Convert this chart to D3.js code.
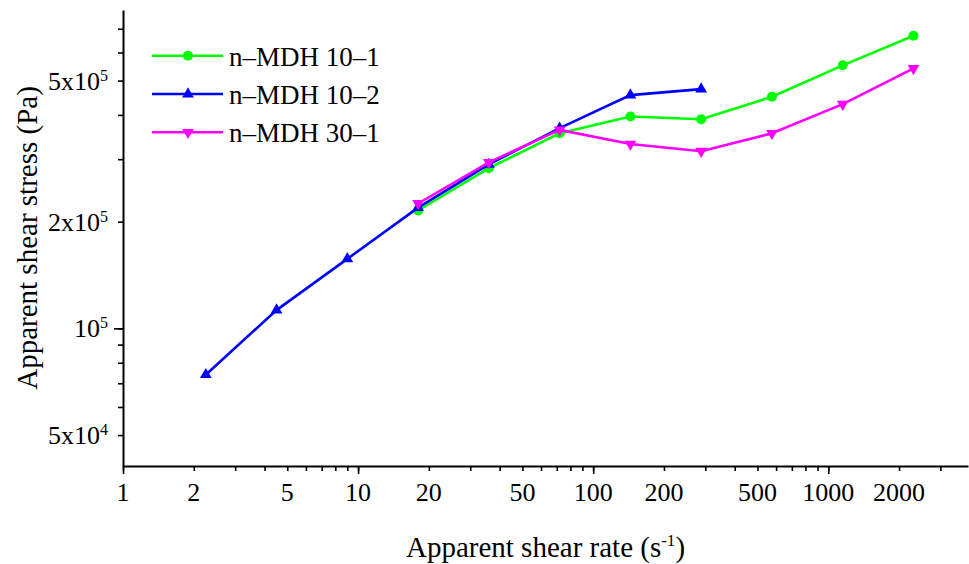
<!DOCTYPE html>
<html>
<head>
<meta charset="utf-8">
<script src="https://cdn.jsdelivr.net/npm/d3@7"></script>
<style>
  body { margin: 0; background: #fff; }
  svg { display: block; }
  text { font-family: "Liberation Serif", "Times New Roman", serif; fill: #000; }
</style>
</head>
<body>
<div id="chart"></div>
<script>
// shear rate (s^-1) for each series
var rateBlue = [2.25, 4.5, 9, 18, 36, 72, 144, 288];
var rateLong = [18, 36, 72, 144, 288, 576, 1152, 2304];

// apparent shear stress (Pa)
var stress101 = [2.15e5, 2.83e5, 3.55e5, 3.96e5, 3.89e5, 4.50e5, 5.52e5, 6.69e5];
var stress102 = [7.4e4, 1.126e5, 1.57e5, 2.19e5, 2.90e5, 3.67e5, 4.55e5, 4.73e5];
var stress301 = [2.25e5, 2.94e5, 3.63e5, 3.31e5, 3.16e5, 3.55e5, 4.29e5, 5.41e5];

var seriesNames = ["n\u2013MDH 10\u20131", "n\u2013MDH 10\u20132", "n\u2013MDH 30\u20131"];
var seriesColors = ["#00ff00", "#0000ff", "#ff00ff"];

// tick labels
var xLabels = [1, 2, 5, 10, 20, 50, 100, 200, 500, 1000, 2000];
var yLabels = [[5, 4], [1, 5], [2, 5], [5, 5]]; // mantissa, exponent

var W = 969, H = 564;
var plotL = 123, plotR = 968, plotT = 10, plotB = 466;

var svg = d3.select("#chart").append("svg")
    .attr("width", W)
    .attr("height", H);

var x = d3.scaleLog().domain([1, 3930]).range([plotL, plotR]);
var y = d3.scaleLog().domain([40900, 790700]).range([plotB, plotT]);

// ticks at k*10^n inside the domain
function logTicks(scale) {
  var d = scale.domain(), out = [];
  for (var e = Math.floor(Math.log10(d[0])); e <= Math.ceil(Math.log10(d[1])); e++) {
    for (var k = 1; k < 10; k++) {
      var v = k * Math.pow(10, e);
      if (v >= d[0] && v <= d[1]) out.push(v);
    }
  }
  return out;
}
var xAll = logTicks(x), yAll = logTicks(y);
var xDec = xAll.filter(function(v){ return Math.abs(Math.log10(v) % 1) < 1e-9; });
var yDec = yAll.filter(function(v){ return Math.abs(Math.log10(v) % 1) < 1e-9; });

function styleAxis(g) {
  g.selectAll("text").remove();
  g.selectAll("line").attr("stroke", "#000").attr("stroke-width", 1.6);
  g.select(".domain").attr("stroke", "#000").attr("stroke-width", 2);
}

// x axis
svg.append("g")
  .attr("transform", "translate(0," + plotB + ")")
  .call(d3.axisBottom(x).tickValues(xAll).tickSize(5).tickSizeOuter(0).tickFormat(""))
  .call(styleAxis);
svg.append("g")
  .attr("transform", "translate(0," + plotB + ")")
  .call(d3.axisBottom(x).tickValues(xDec).tickSize(8).tickSizeOuter(0).tickFormat(""))
  .call(styleAxis)
  .select(".domain").remove();

// y axis
svg.append("g")
  .attr("transform", "translate(" + plotL + ",0)")
  .call(d3.axisLeft(y).tickValues(yAll).tickSize(5).tickSizeOuter(0).tickFormat(""))
  .call(styleAxis);
svg.append("g")
  .attr("transform", "translate(" + plotL + ",0)")
  .call(d3.axisLeft(y).tickValues(yDec).tickSize(9).tickSizeOuter(0).tickFormat(""))
  .call(styleAxis)
  .select(".domain").remove();

// x tick labels
svg.append("g").selectAll("text")
  .data(xLabels)
  .enter().append("text")
  .attr("x", function(d){ return x(d); })
  .attr("y", plotB + 35)
  .attr("text-anchor", "middle")
  .style("font-size", "26px")
  .text(function(d){ return d; });

// y tick labels with superscript exponents
var yl = svg.append("g").selectAll("text")
  .data(yLabels)
  .enter().append("text")
  .attr("x", 108)
  .attr("y", function(d){ return y(d[0] * Math.pow(10, d[1])) + 9; })
  .attr("text-anchor", "end")
  .style("font-size", "26px");
yl.append("tspan").text(function(d){ return d[0] === 1 ? "10" : d[0] + "x10"; });
yl.append("tspan")
  .attr("dy", -9)
  .style("font-size", "16px")
  .text(function(d){ return d[1]; });

// axis titles
var xt = svg.append("text")
  .attr("x", (plotL + plotR) / 2)
  .attr("y", 557)
  .attr("text-anchor", "middle")
  .style("font-size", "29px");
xt.append("tspan").text("Apparent shear rate (s");
xt.append("tspan").attr("dy", -11).style("font-size", "17px").text("-1");
xt.append("tspan").attr("dy", 11).text(")");

svg.append("text")
  .attr("transform", "translate(37," + (plotT + plotB) / 2 + ") rotate(-90)")
  .attr("text-anchor", "middle")
  .style("font-size", "29px")
  .text("Apparent shear stress (Pa)");

// series
var series = [
  { name: seriesNames[0], color: seriesColors[0], xs: rateLong, ys: stress101, sym: d3.symbolCircle, size: 78, rot: 0 },
  { name: seriesNames[1], color: seriesColors[1], xs: rateBlue, ys: stress102, sym: d3.symbolTriangle, size: 60, rot: 0 },
  { name: seriesNames[2], color: seriesColors[2], xs: rateLong, ys: stress301, sym: d3.symbolTriangle, size: 60, rot: 180 }
];

var line = d3.line()
  .x(function(d){ return x(d[0]); })
  .y(function(d){ return y(d[1]); });

series.forEach(function(s) {
  var pts = d3.zip(s.xs, s.ys);
  var g = svg.append("g");
  g.append("path")
    .attr("d", line(pts))
    .attr("fill", "none")
    .attr("stroke", s.color)
    .attr("stroke-width", 2.6);
  g.selectAll("path.mk")
    .data(pts)
    .enter().append("path")
    .attr("class", "mk")
    .attr("d", d3.symbol().type(s.sym).size(s.size))
    .attr("transform", function(d){
      return "translate(" + x(d[0]) + "," + y(d[1]) + ") rotate(" + s.rot + ")";
    })
    .attr("fill", s.color);
});

// legend
var legend = svg.append("g");
series.forEach(function(s, i) {
  var cy = 55.7 + i * 38.3;
  legend.append("line")
    .attr("x1", 152).attr("x2", 223)
    .attr("y1", cy).attr("y2", cy)
    .attr("stroke", s.color)
    .attr("stroke-width", 2.6);
  legend.append("path")
    .attr("d", d3.symbol().type(s.sym).size(s.size))
    .attr("transform", "translate(188," + cy + ") rotate(" + s.rot + ")")
    .attr("fill", s.color);
  legend.append("text")
    .attr("x", 229)
    .attr("y", cy + 10)
    .style("font-size", "27px")
    .text(s.name);
});
</script>
</body>
</html>
